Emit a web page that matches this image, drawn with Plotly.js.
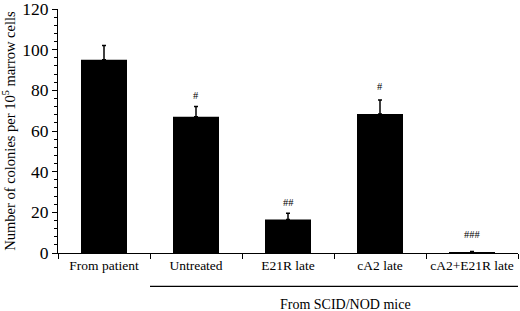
<!DOCTYPE html>
<html><head><meta charset="utf-8">
<script src="https://cdn.plot.ly/plotly-3.0.1.min.js"></script>
<style>html,body{margin:0;padding:0;background:#fff}</style>
</head><body>
<div id="chart" style="width:520px;height:311px"></div>
<script>
var categories = ["From patient", "Untreated", "E21R late", "cA2 late", "cA2+E21R late"];
var values = [95, 67, 16.5, 68.3, 0.3];
var errors = [7, 5, 3, 7, 0.4];
var marks = ["", "#", "##", "#", "###"];
var markY = [0, 77.5, 25, 82, 9];
var yTicks = [0, 20, 40, 60, 80, 100, 120];

var font = "Liberation Serif, DejaVu Serif, serif";
var annotations = [];
for (var i = 0; i < categories.length; i++) {
  if (marks[i]) {
    annotations.push({x: categories[i], y: markY[i], text: marks[i],
      showarrow: false, font: {family: font, size: 10.5, color: "#000"}, yanchor: "middle"});
  }
}
annotations.push({xref: "paper", yref: "paper", x: 0.626, y: -0.21, yanchor: "middle",
  text: "From SCID/NOD mice", showarrow: false, font: {family: font, size: 14, color: "#000"}});

Plotly.newPlot("chart", [{
  type: "bar", x: categories, y: values, width: 0.5,
  marker: {color: "#000", line: {width: 0}},
  error_y: {type: "data", array: errors, symmetric: false, arrayminus: errors.map(function(){return 0;}),
    color: "#000", thickness: 1.5, width: 2}
}], {
  width: 520, height: 311,
  margin: {l: 58, r: 2, t: 9, b: 58},
  paper_bgcolor: "#fff", plot_bgcolor: "#fff",
  showlegend: false,
  font: {family: font, color: "#000"},
  xaxis: {showline: true, linecolor: "#000", linewidth: 1, ticks: "outside", tickson: "boundaries",
    tickangle: 0, automargin: false,
    ticklen: 5, tickcolor: "#000", tickfont: {family: font, size: 13.5}, showgrid: false, zeroline: false},
  yaxis: {range: [0, 120], tickvals: yTicks, showline: true, linecolor: "#000", linewidth: 1,
    ticks: "outside", ticklen: 5, tickcolor: "#000", tickfont: {family: font, size: 17.5},
    ticklabeloverflow: "allow", automargin: false,
    showgrid: false, zeroline: false,
    minor: {dtick: 4, ticks: "outside", ticklen: 3, tickcolor: "#000", showgrid: false},
    title: {text: "Number of colonies per 10<sup>5</sup> marrow cells", font: {family: font, size: 14.5}, standoff: 4}},
  shapes: [{type: "line", xref: "paper", yref: "paper", x0: 0.2, x1: 1, y0: -0.137, y1: -0.137,
    line: {color: "#000", width: 1.2}}],
  annotations: annotations
}, {displayModeBar: false});
</script>
</body></html>
